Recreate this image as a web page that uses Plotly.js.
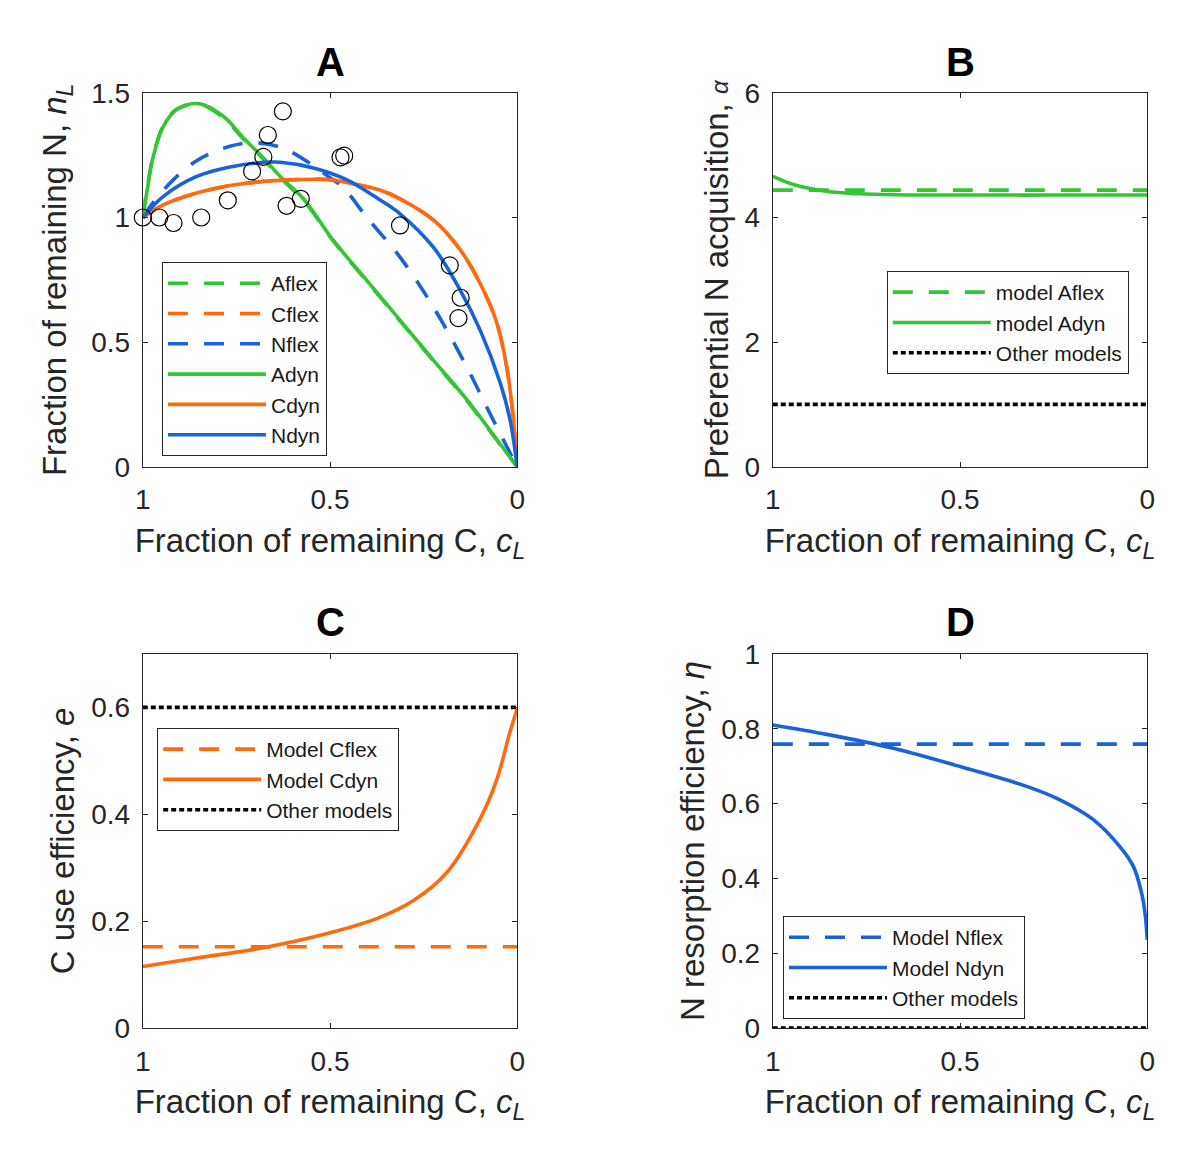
<!DOCTYPE html>
<html>
<head>
<meta charset="utf-8">
<script src="https://cdn.plot.ly/plotly-3.0.1.min.js"></script>
<style>
  html, body { margin: 0; padding: 0; background: #fff; }
  #chart { width: 1200px; height: 1161px; }
</style>
</head>
<body>
<div id="chart"></div>
<script>
// panel A: fraction of remaining N vs fraction of remaining C
var obsC = [1, 0.956, 0.918, 0.844, 0.773, 0.708, 0.678, 0.666, 0.626, 0.616, 0.578, 0.472, 0.462, 0.313, 0.18, 0.151, 0.157];
var obsN = [1, 1.0, 0.978, 1.0, 1.069, 1.185, 1.243, 1.331, 1.426, 1.047, 1.075, 1.241, 1.248, 0.968, 0.808, 0.678, 0.596];

var aC = [1, 0.985, 0.972, 0.945, 0.909, 0.851, 0.785, 0.731, 0.678, 0.625, 0.571, 0.491, 0.402, 0.313, 0.224, 0.135, 0.045, 0];
var aflexN = [1, 1.15, 1.25, 1.37, 1.435, 1.455, 1.40, 1.315, 1.235, 1.148, 1.07, 0.905, 0.745, 0.585, 0.425, 0.266, 0.088, 0];
var adynN = [1, 1.14, 1.245, 1.366, 1.433, 1.457, 1.406, 1.319, 1.239, 1.152, 1.075, 0.908, 0.748, 0.588, 0.428, 0.27, 0.09, 0];

var nflexC = [1, 0.98, 0.95, 0.918, 0.856, 0.767, 0.696, 0.616, 0.5, 0.465, 0.402, 0.313, 0.224, 0.135, 0.082, 0.028, 0];
var nflexN = [1, 1.045, 1.10, 1.152, 1.228, 1.286, 1.30, 1.272, 1.16, 1.121, 1.001, 0.841, 0.641, 0.401, 0.241, 0.081, 0];

var ndynC = [1, 0.945, 0.856, 0.767, 0.678, 0.633, 0.544, 0.456, 0.367, 0.313, 0.224, 0.152, 0.099, 0.045, 0.019, 0];
var ndynN = [1, 1.085, 1.165, 1.203, 1.221, 1.222, 1.199, 1.152, 1.071, 1.015, 0.881, 0.708, 0.548, 0.335, 0.188, 0];

var cdynC = [1, 0.945, 0.856, 0.767, 0.678, 0.589, 0.5, 0.456, 0.367, 0.313, 0.224, 0.152, 0.099, 0.055, 0.028, 0.010, 0];
var cdynN = [1, 1.051, 1.098, 1.128, 1.145, 1.152, 1.152, 1.140, 1.11, 1.075, 0.99, 0.87, 0.735, 0.58, 0.40, 0.19, 0];
var cflexN = cdynN;

// panel B: preferential N acquisition
var alphaC = [1, 0.945, 0.856, 0.767, 0.677, 0.5, 0.25, 0];
var alphaDyn = [4.66, 4.53, 4.42, 4.38, 4.365, 4.36, 4.36, 4.36];
var alphaFlex = 4.44;
var alphaOther = 1;

// panel C: C use efficiency
var effC = [1, 0.856, 0.678, 0.5, 0.367, 0.278, 0.189, 0.1, 0.055, 0.02, 0];
var effDyn = [0.115, 0.131, 0.150, 0.178, 0.207, 0.238, 0.29, 0.39, 0.464, 0.552, 0.598];
var effFlex = 0.152;
var effOther = 0.6;

// panel D: N resorption efficiency
var resC = [1, 0.856, 0.678, 0.5, 0.322, 0.233, 0.144, 0.073, 0.037, 0.015, 0.005, 0];
var resDyn = [0.810, 0.785, 0.748, 0.699, 0.646, 0.610, 0.557, 0.485, 0.432, 0.361, 0.30, 0.236];
var resFlex = 0.759;
var resOther = 0;

var ends = [1, 0];
var green = '#33c633', orange = '#ff6a10', blue = '#1862dc';
var DASH = '20px,16px', DOT = '5px,3px';

function curve(x, y, name, color, dash, xa, ya, leg) {
	return {
		x: x, y: y, name: name, type: 'scatter', mode: 'lines',
		line: {color: color, width: 3.6, dash: dash, shape: 'spline', smoothing: 1},
		xaxis: xa, yaxis: ya, legend: leg
	};
}
function flat(v) { return [v, v]; }

var data = [
	curve(aC, aflexN, 'Aflex', green, DASH, 'x', 'y', 'legend'),
	curve(cdynC, cflexN, 'Cflex', orange, DASH, 'x', 'y', 'legend'),
	curve(nflexC, nflexN, 'Nflex', blue, DASH, 'x', 'y', 'legend'),
	curve(aC, adynN, 'Adyn', green, 'solid', 'x', 'y', 'legend'),
	curve(cdynC, cdynN, 'Cdyn', orange, 'solid', 'x', 'y', 'legend'),
	curve(ndynC, ndynN, 'Ndyn', blue, 'solid', 'x', 'y', 'legend'),
	{x: obsC, y: obsN, type: 'scatter', mode: 'markers', showlegend: false,
	 marker: {symbol: 'circle-open', size: 17, color: '#000', line: {width: 1.2}},
	 xaxis: 'x', yaxis: 'y', cliponaxis: false},

	curve(ends, flat(alphaFlex), 'model Aflex', green, DASH, 'x2', 'y2', 'legend2'),
	curve(alphaC, alphaDyn, 'model Adyn', green, 'solid', 'x2', 'y2', 'legend2'),
	curve(ends, flat(alphaOther), 'Other models', '#000', DOT, 'x2', 'y2', 'legend2'),

	curve(ends, flat(effFlex), 'Model Cflex', orange, DASH, 'x3', 'y3', 'legend3'),
	curve(effC, effDyn, 'Model Cdyn', orange, 'solid', 'x3', 'y3', 'legend3'),
	curve(ends, flat(effOther), 'Other models', '#000', DOT, 'x3', 'y3', 'legend3'),

	curve(ends, flat(resFlex), 'Model Nflex', blue, DASH, 'x4', 'y4', 'legend4'),
	curve(resC, resDyn, 'Model Ndyn', blue, 'solid', 'x4', 'y4', 'legend4'),
	curve(ends, flat(resOther), 'Other models', '#000', DOT, 'x4', 'y4', 'legend4')
];

var axisColor = '#262626';
var xTitle = 'Fraction of remaining C, <i>c<sub>L</sub></i>';

function xax(domain, anchor) {
	return {
		domain: domain, anchor: anchor, range: [1, 0], tickvals: [1, 0.5, 0],
		ticks: 'inside', ticklen: 5, tickcolor: axisColor, mirror: 'ticks',
		showline: true, linecolor: axisColor, linewidth: 1,
		showgrid: false, zeroline: false, ticklabelstandoff: 8,
		tickfont: {size: 28, color: axisColor},
		title: {text: xTitle, font: {size: 33, color: axisColor}, standoff: 14}
	};
}
function yax(domain, anchor, range, ticks, title, standoff) {
	return {
		domain: domain, anchor: anchor, range: range, tickvals: ticks,
		ticks: 'inside', ticklen: 5, tickcolor: axisColor, mirror: 'ticks',
		showline: true, linecolor: axisColor, linewidth: 1,
		showgrid: false, zeroline: false, ticklabelstandoff: 6,
		tickfont: {size: 28, color: axisColor},
		title: {text: title, font: {size: 33, color: axisColor}, standoff: standoff}
	};
}
function legendBox(x, y) {
	return {
		x: x, y: y, xanchor: 'left', yanchor: 'top',
		bgcolor: '#fff', bordercolor: axisColor, borderwidth: 1,
		font: {size: 21, color: '#1a1a1a'}, itemwidth: 98, tracegroupgap: 0
	};
}
function panelTitle(t, x, y) {
	return {text: '<b>' + t + '</b>', x: x, y: y, xref: 'paper', yref: 'paper',
		xanchor: 'center', yanchor: 'middle',
		showarrow: false, font: {size: 40, color: '#000'}};
}

var colLeft = [0.119, 0.431], colRight = [0.644, 0.956];
var rowTop = [0.598, 0.920], rowBottom = [0.1146, 0.4367];

var layout = {
	width: 1200, height: 1161,
	margin: {l: 0, r: 0, t: 0, b: 0},
	paper_bgcolor: '#fff', plot_bgcolor: '#fff',
	font: {family: 'Liberation Sans, Arial, sans-serif', color: axisColor},
	xaxis: xax(colLeft, 'y'),
	yaxis: yax(rowTop, 'x', [0, 1.5], [0, 0.5, 1, 1.5], 'Fraction of remaining N, <i>n<sub>L</sub></i>', 14),
	xaxis2: xax(colRight, 'y2'),
	yaxis2: yax(rowTop, 'x2', [0, 6], [0, 2, 4, 6], 'Preferential N acquisition, <span style="font-size:24px"><i>α</i></span>', 6),
	xaxis3: xax(colLeft, 'y3'),
	yaxis3: yax(rowBottom, 'x3', [0, 0.7], [0, 0.2, 0.4, 0.6], 'C use efficiency, <i>e</i>', 6),
	xaxis4: xax(colRight, 'y4'),
	yaxis4: yax(rowBottom, 'x4', [0, 1], [0, 0.2, 0.4, 0.6, 0.8, 1], 'N resorption efficiency, <i>η</i>', 6),
	legend: legendBox(0.135, 0.7743),
	legend2: legendBox(0.739, 0.7666),
	legend3: legendBox(0.131, 0.373),
	legend4: legendBox(0.6525, 0.211),
	annotations: [
		panelTitle('A', 0.275, 0.9466),
		panelTitle('B', 0.8, 0.9466),
		panelTitle('C', 0.275, 0.4643),
		panelTitle('D', 0.8, 0.4643)
	]
};

Plotly.newPlot('chart', data, layout, {staticPlot: true});
</script>
</body>
</html>
